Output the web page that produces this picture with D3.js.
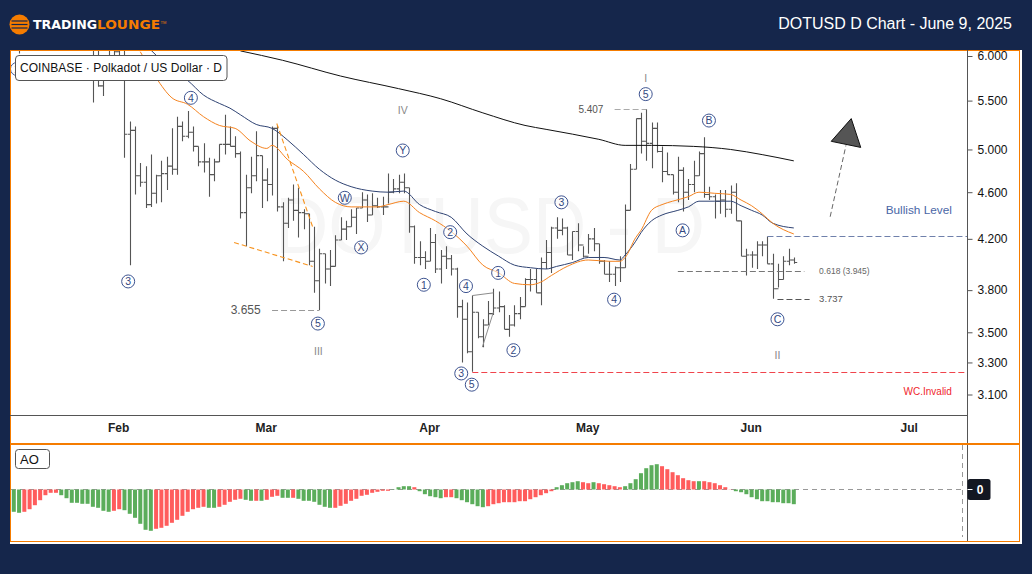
<!DOCTYPE html>
<html><head><meta charset="utf-8">
<script src="https://cdn.jsdelivr.net/npm/d3@7/dist/d3.min.js"></script>
<style>html,body{margin:0;padding:0;background:#15264b;overflow:hidden}svg{display:block}text{font-family:"Liberation Sans",Arial,sans-serif}</style>
</head><body><svg id="c" width="1032" height="574"></svg>
<script>
const firstBar = 16;
const highs = [6.2,6.2,5.9,6.2,6.2,6.2,6.2,5.28,5.23,4.87,4.84,4.95,4.76,4.89,4.93,5.21,5.33,5.28,5.39,5.23,5.03,5.06,4.92,4.91,5.05,5.35,5.23,5.13,4.98,4.76,4.93,5.18,4.94,4.82,5.23,5.24,4.51,4.55,4.67,4.64,4.45,4.41,4.30,4.12,4.08,4.11,4.23,4.38,4.35,4.45,4.46,4.60,4.58,4.59,4.55,4.56,4.77,4.72,4.76,4.77,4.64,4.31,4.18,4.10,4.29,4.24,4.11,4.14,4.07,3.97,3.73,3.71,3.76,3.64,3.59,3.72,3.81,3.79,3.69,3.62,3.69,3.75,3.89,3.96,3.96,4.05,4.19,4.30,4.38,4.37,4.30,4.26,4.33,4.14,4.24,4.29,4.16,4.03,4.02,3.98,4.06,4.49,4.86,5.31,5.37,5.407,5.27,5.27,5.03,4.97,4.76,4.93,4.83,4.72,4.89,4.98,5.12,4.65,4.58,4.62,4.62,4.66,4.68,4.35,4.12,4.10,4.18,4.18,4.22,4.08,4.00,4.06,4.12,4.05];
const lows = [5.48,5.65,5.55,5.9,5.85,5.9,4.92,3.99,4.58,4.65,4.46,4.47,4.50,4.51,4.62,4.76,4.76,5.08,5.11,4.98,4.84,4.78,4.56,4.70,4.88,4.95,5.03,4.92,4.37,4.14,4.59,4.70,4.46,4.52,4.57,4.43,4.02,4.29,4.35,4.21,4.28,3.99,3.78,3.655,3.85,3.83,3.98,4.19,4.19,4.30,4.24,4.46,4.34,4.40,4.46,4.40,4.50,4.59,4.59,4.59,4.25,4.00,3.99,3.96,4.02,3.93,3.85,3.96,3.91,3.60,3.30,3.36,3.24,3.46,3.40,3.55,3.62,3.64,3.52,3.47,3.54,3.59,3.68,3.79,3.78,3.69,3.96,3.93,4.20,4.23,4.07,4.03,4.10,4.05,4.08,4.10,4.00,3.92,3.86,3.83,3.86,3.97,4.44,4.81,4.96,4.89,4.82,4.97,4.69,4.76,4.58,4.51,4.43,4.53,4.60,4.75,4.55,4.53,4.37,4.41,4.38,4.41,4.35,4.06,3.91,3.97,3.96,4.06,4.00,3.737,3.82,3.88,3.99,4.00];
const closes = [5.80,5.66,5.75,6.0,6.05,6.0,5.15,5.19,4.75,4.69,4.49,4.59,4.75,4.77,4.84,4.81,5.23,5.13,5.17,5.03,4.88,4.88,4.76,4.88,5.05,5.05,5.03,4.96,4.42,4.64,4.75,4.94,4.71,4.67,5.21,4.47,4.33,4.53,4.44,4.42,4.41,4.02,3.87,4.08,3.96,3.98,4.19,4.28,4.30,4.38,4.46,4.53,4.40,4.48,4.47,4.47,4.60,4.63,4.69,4.64,4.30,4.05,4.05,4.02,4.17,3.96,4.06,4.04,3.96,3.68,3.59,3.37,3.64,3.47,3.55,3.63,3.67,3.68,3.52,3.55,3.63,3.68,3.88,3.88,3.78,4.01,4.09,4.29,4.27,4.29,4.07,4.26,4.15,4.06,4.20,4.16,4.02,3.92,3.92,3.97,3.97,4.44,4.81,5.31,5.08,5.06,5.21,4.98,4.79,4.76,4.60,4.80,4.60,4.67,4.75,4.96,4.58,4.56,4.52,4.53,4.45,4.60,4.35,4.06,4.07,4.07,4.15,4.15,4.00,3.81,3.88,4.02,4.03,4.01];

const orangeMA = [[25,6.05],[28,5.75],[31,5.53],[34,5.46],[37,5.33],[40,5.24],[43,5.21],[46,5.08],[49,5.01],[50,5.04],[53,4.90],[56,4.79],[59,4.63],[62,4.51],[65,4.47],[70,4.47],[72,4.49],[75,4.52],[78,4.42],[81,4.35],[84,4.26],[87,4.14],[90,3.99],[93,3.93],[96,3.85],[99,3.84],[101,3.86],[103,3.91],[106,3.98],[110,4.03],[114,4.02],[116,4.02],[117,4.05],[119,4.21],[120,4.27],[122,4.44],[124,4.49],[126,4.52],[129,4.56],[131,4.60],[134,4.59],[137,4.58],[139,4.53],[141,4.48],[143,4.41],[145,4.33],[149,4.24]];
const navyMA = [[27,6.07],[29,5.95],[31,5.84],[34,5.72],[37,5.56],[40,5.47],[42,5.42],[44,5.35],[47,5.25],[50,5.21],[53,5.09],[56,4.95],[59,4.81],[62,4.71],[65,4.65],[69,4.61],[72,4.60],[75,4.61],[78,4.49],[81,4.43],[84,4.38],[87,4.24],[90,4.14],[93,4.06],[96,3.99],[99,3.97],[102,3.96],[104,3.98],[107,4.01],[110,4.05],[113,4.05],[116,4.03],[117,4.07],[119,4.18],[120,4.25],[122,4.35],[124,4.40],[127,4.44],[129,4.47],[131,4.52],[134,4.52],[137,4.52],[139,4.48],[141,4.44],[143,4.40],[145,4.33],[149,4.29]];
const blackMA = [[44,6.06],[52,5.95],[63,5.77],[74,5.63],[82,5.52],[90,5.37],[98,5.24],[102,5.20],[112,5.10],[117,5.04],[122,5.04],[130,5.03],[137,5.00],[143,4.95],[149,4.89]];

const aoValues = [-.223,-.233,-.223,-.197,-.157,-.107,-.057,-.033,-.033,-.057,-.087,-.133,-.133,-.143,-.143,-.173,-.183,-.213,-.223,-.213,-.197,-.207,-.243,-.283,-.343,-.403,-.413,-.393,-.383,-.363,-.333,-.303,-.263,-.223,-.197,-.183,-.173,-.183,-.183,-.173,-.153,-.123,-.103,-.093,-.103,-.113,-.113,-.113,-.103,-.073,-.063,-.083,-.083,-.083,-.093,-.113,-.113,-.123,-.153,-.173,-.183,-.183,-.163,-.143,-.113,-.093,-.063,-.053,-.033,-.023,-.013,-.013,-.003,.023,.033,.033,.023,-.017,-.047,-.067,-.077,-.087,-.077,-.077,-.087,-.107,-.127,-.147,-.167,-.177,-.167,-.147,-.137,-.127,-.127,-.127,-.117,-.117,-.097,-.077,-.057,-.037,-.017,.023,.043,.063,.073,.083,.073,.063,.073,.063,.053,.043,.033,.023,.033,.063,.103,.163,.213,.243,.253,.233,.203,.173,.143,.113,.093,.083,.083,.083,.073,.063,.043,.023,.002,-.017,-.027,-.047,-.077,-.097,-.117,-.117,-.127,-.127,-.137,-.137,-.147];
const aoColorRuns = [["g",2],["r",7],["g",10],["r",2],["g",6],["r",10],["g",2],["r",5],["g",2],["r",1],["g",1],["r",3],["g",2],["r",1],["g",7],["r",11],["g",4],["r",1],["g",5],["r",2],["g",6],["r",13],["g",5],["r",2],["g",1],["r",5],["g",7],["r",7],["g",1],["r",6],["g",12]];

const monthLabels = ["Feb","Mar","Apr","May","Jun","Jul"];
const monthBars = [21,49,80,110,141,171];
const priceTicks = [6.0,5.5,5.0,4.6,4.2,3.8,3.5,3.3,3.1];

const waveLabels = [["1",1.6,5.85],["4",34.6,5.53],["3",22.7,3.865],["5",58.7,3.56],["W",63.8,4.55],["X",66.9,4.13],["Y",74.8,4.99],["2",83.8,4.255],["1",78.8,3.84],["4",86.8,3.83],["1",92.9,3.93],["3",104.9,4.51],["2",95.8,3.38],["4",114.9,3.73],["3",85.9,3.23],["5",87.9,3.16],["5",120.9,5.57],["B",132.9,5.29],["A",127.9,4.27],["C",145.9,3.59]];
const romanLabels = [["III",58.8,3.37],["IV",74.8,5.40],["I",120.9,5.75],["II",145.9,3.35]];
const levelLines = [
 [50,59,3.655,"#999"],[115,121,5.407,"#aaa"],[127,151,3.945,"#777"],[145.9,152,3.737,"#555"],
 [144,182,4.225,"#6f80ab"],[88,182,3.24,"#f0444c"]];
const orangeDashes = [[[50.9,5.26],[57.7,4.30]],[[42.8,4.17],[57.7,3.98]]];
const greySegments = [[[88,3.76],[92,3.78]],[[89.9,3.40],[92,3.64]]];
const arrowShaft = [[155.9,4.385],[158.9,5.04]];
const arrowHead = [[159.9,5.31],[156.1,5.08],[161.7,5.02]];
const priceNotes = [
 ["3.655",45,3.655,"#555",12,"middle"],["5.407",110.5,5.407,"#555",10,"middle"],
 ["0.618 (3.945)",153.8,3.945,"#666",8.5,"start"],["3.737",153.8,3.737,"#555",9.5,"start"],
 ["Bullish Level",179,4.225*1.052,"#4a66a6",11.8,"end"],["WC.Invalid",179,3.24*0.9635,"#f01f2c",10,"end"]];

const svg = d3.select("#c");
const x = d3.scaleLinear().domain([1,149]).range([13.8,793.8]);
const y = d3.scaleLog().domain([3.1,6.0]).range([394.5,56]);
const ao = d3.scaleLinear().domain([.455,-.525]).range([444,542]);

// frame
svg.append("rect").attr("x",10).attr("y",50).attr("width",1012).attr("height",494).attr("fill","#fff");
svg.append("rect").attr("x",10.5).attr("y",50.5).attr("width",1009).attr("height",491).attr("fill","none").attr("stroke","#f57c00").attr("stroke-width",1);
svg.append("defs").append("clipPath").attr("id","pane").append("rect").attr("x",11).attr("y",51).attr("width",956).attr("height",364);
const pane = svg.append("g").attr("clip-path","url(#pane)");

pane.append("text").attr("x",490).attr("y",253).attr("text-anchor","middle").attr("font-size",80)
 .attr("textLength",430).attr("lengthAdjust","spacingAndGlyphs").attr("fill","#f6f6f6").text("DOTUSD - D");

// OHLC
const bars = closes.map((c,i)=>({n:firstBar+i,h:highs[i],l:lows[i],c,o:i?closes[i-1]:c}));
bars.unshift({n:2,h:6.3,l:6.03,o:6.15,c:6.15});
const barG = pane.append("g").attr("stroke","#555").attr("stroke-width",1.1).attr("fill","none");
barG.selectAll("path").data(bars).join("path").attr("d",d=>{
 const X=Math.round(x(d.n))+.5;
 return `M${X},${y(d.h)}V${y(d.l)}M${X-2.7},${y(d.o)}H${X}M${X},${y(d.c)}H${X+2.7}`;
});

// MAs
const line = d3.line().x(d=>x(d[0])).y(d=>y(d[1])).curve(d3.curveMonotoneX);
[[blackMA,"#111",1],[navyMA,"#2f4373",1],[orangeMA,"#f5831f",1]].forEach(([d,c,w])=>
 pane.append("path").attr("d",line(d)).attr("fill","none").attr("stroke",c).attr("stroke-width",w));

// levels
pane.selectAll(".lvl").data(levelLines).join("line").attr("x1",d=>x(d[0])).attr("x2",d=>x(d[1]))
 .attr("y1",d=>Math.round(y(d[2]))+.5).attr("y2",d=>Math.round(y(d[2]))+.5)
 .attr("stroke",d=>d[3]).attr("stroke-width",1.1).attr("stroke-dasharray","6 3");
const seg = d3.line().x(d=>x(d[0])).y(d=>y(d[1]));
orangeDashes.forEach(d=>pane.append("path").attr("d",seg(d)).attr("stroke","#f7931e").attr("stroke-width",1.1).attr("stroke-dasharray","5 3").attr("fill","none"));
greySegments.forEach(d=>pane.append("path").attr("d",seg(d)).attr("stroke","#8c8c8c").attr("stroke-width",1).attr("fill","none"));
pane.append("path").attr("d",seg(arrowShaft)).attr("stroke","#666").attr("stroke-width",1).attr("stroke-dasharray","5 3").attr("fill","none");
pane.append("path").attr("d",seg(arrowHead)+"Z").attr("fill","#555").attr("stroke","#111").attr("stroke-width",1);

// wave labels
const wl = pane.selectAll(".w").data(waveLabels).join("g").attr("transform",d=>`translate(${x(d[1])},${y(d[2])})`);
wl.append("circle").attr("r",6.5).attr("fill","#fff").attr("fill-opacity",.6).attr("stroke","#3e5491").attr("stroke-width",1);
wl.append("text").attr("text-anchor","middle").attr("dy","0.36em").attr("font-size",10.5).attr("fill","#34497f").text(d=>d[0]);
pane.selectAll(".r").data(romanLabels).join("text").attr("x",d=>x(d[1])).attr("y",d=>y(d[2])).attr("dy","0.36em")
 .attr("text-anchor","middle").attr("font-size",10.5).attr("fill","#888").text(d=>d[0]);
pane.selectAll(".n").data(priceNotes).join("text").attr("x",d=>x(d[1])).attr("y",d=>y(d[2])).attr("dy","0.36em")
 .attr("text-anchor",d=>d[5]).attr("font-size",d=>d[4]).attr("fill",d=>d[3]).text(d=>d[0]);

// price axis
const yAxis = svg.append("g").attr("transform","translate(967.5,0)").call(d3.axisRight(y).tickValues(priceTicks).tickFormat(d3.format(".3f")).tickSize(5).tickPadding(5));
yAxis.select(".domain").remove();
yAxis.selectAll("line").attr("stroke","#555");
yAxis.selectAll("text").attr("font-size",12).attr("fill","#111").style("font-family",'"Liberation Sans"');
const xAxis = svg.append("g").attr("transform","translate(-1,415)").call(d3.axisBottom(x).tickValues(monthBars).tickFormat((d,i)=>monthLabels[i]).tickSize(0).tickPadding(8));
xAxis.select(".domain").remove();
xAxis.selectAll("text").attr("font-size",12).attr("font-weight","bold").attr("fill","#222").style("font-family",'"Liberation Sans"');
svg.append("line").attr("x1",10).attr("x2",967.5).attr("y1",415.5).attr("y2",415.5).attr("stroke","#555").attr("stroke-width",1);
svg.append("line").attr("x1",967.5).attr("x2",967.5).attr("y1",50).attr("y2",541).attr("stroke","#555").attr("stroke-width",1);

// label
svg.append("rect").attr("x",15.5).attr("y",55.5).attr("width",211.5).attr("height",25).attr("rx",3.5).attr("fill","#fff").attr("stroke","#555");
svg.append("text").attr("x",20).attr("y",72).attr("font-size",12).attr("fill","#111").attr("textLength",202).text("COINBASE  ·  Polkadot / US Dollar  ·  D");

// AO pane
svg.append("rect").attr("x",10).attr("y",443).attr("width",1010).attr("height",2).attr("fill","#f57c00");
svg.append("line").attr("x1",11).attr("x2",962).attr("y1",ao(0)).attr("y2",ao(0)).attr("stroke","#999").attr("stroke-width",1).attr("stroke-dasharray","5 4");
svg.append("line").attr("x1",962.5).attr("x2",962.5).attr("y1",445).attr("y2",537).attr("stroke","#999").attr("stroke-width",1).attr("stroke-dasharray","5 4");
const aoColors = aoColorRuns.flatMap(([c,k])=>d3.range(k).map(()=>c));
svg.append("g").selectAll("rect").data(aoValues).join("rect")
 .attr("x",(d,i)=>x(i+1)-2).attr("width",4)
 .attr("y",d=>Math.min(ao(d),ao(0))).attr("height",d=>Math.abs(ao(d)-ao(0)))
 .attr("fill",(d,i)=>aoColors[i]==="g"?"#5bad5b":"#ff5c5c");
svg.append("rect").attr("x",15.5).attr("y",449.5).attr("width",34).attr("height",19).attr("rx",3).attr("fill","#fff").attr("stroke","#555");
svg.append("text").attr("x",20).attr("y",463.5).attr("font-size",13).attr("fill","#111").text("AO");
svg.append("rect").attr("x",967.5).attr("y",479).attr("width",23).attr("height",21).attr("rx",2.5).attr("fill","#131722");
svg.append("line").attr("x1",967.5).attr("x2",972.5).attr("y1",ao(0)).attr("y2",ao(0)).attr("stroke","#fff");
svg.append("text").attr("x",980).attr("y",494).attr("text-anchor","middle").attr("font-size",12).attr("font-weight","bold").attr("fill","#fff").text("0");

// header
const logoX=19.5, logoY=24.5;
svg.append("circle").attr("cx",logoX).attr("cy",logoY).attr("r",10).attr("fill","#f57c00");
[-3.5,0,3.5].forEach(dy=>svg.append("rect").attr("x",logoX-8).attr("y",logoY+dy-.6).attr("width",16).attr("height",1.2).attr("fill","#15264b"));
svg.append("text").attr("x",33).attr("y",29).attr("font-size",12).attr("font-weight","bold").attr("fill","#fff")
 .style("font-family",'"DejaVu Sans"').attr("textLength",64).attr("lengthAdjust","spacingAndGlyphs").text("TRADING");
svg.append("text").attr("x",97).attr("y",29).attr("font-size",12).attr("font-weight","bold").attr("fill","#f57c00")
 .style("font-family",'"DejaVu Sans"').attr("textLength",63).attr("lengthAdjust","spacingAndGlyphs").text("LOUNGE");
svg.append("text").attr("x",160.5).attr("y",24).attr("font-size",4).attr("fill","#f57c00").text("TM");
svg.append("text").attr("x",1012).attr("y",29).attr("text-anchor","end").attr("font-size",16).attr("fill","#fff").text("DOTUSD D Chart - June 9, 2025");
</script></body></html>
